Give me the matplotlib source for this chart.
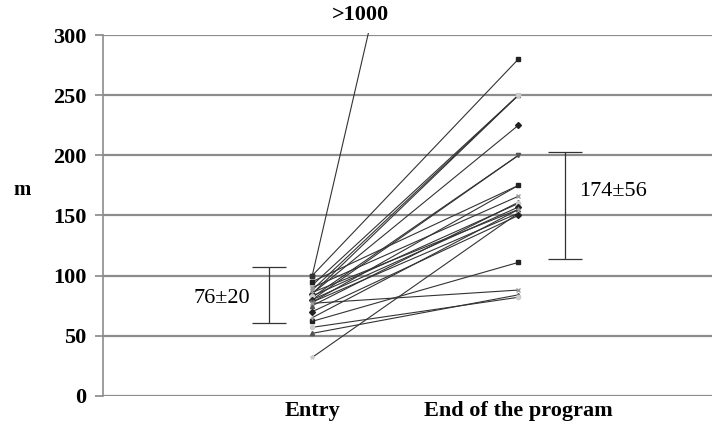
import matplotlib.pyplot as plt
from matplotlib.patches import Rectangle

plt.rcParams['font.family'] = ['Liberation Serif', 'DejaVu Serif']

# walking distance (m) per subject
entry = [100, 88, 85, 92, 85, 80, 82, 78, 95, 90, 75, 83, 80, 86, 78, 32, 62, 77, 52, 57, 70, 65]
end = [280, 250, 250, 250, 225, 200, 200, 175, 175, 166, 161, 160, 157, 155, 152, 152, 111, 88, 84, 82, 150, 155]

# subject with >1000 m at the end: drawn leaving the top of the chart
offscale_entry = 100
offscale_end = 840
offscale_label = '>1000'

categories = ['Entry', 'End of the program']
yticks = [0, 50, 100, 150, 200, 250, 300]

# mean±SD bars as drawn (low, high) and their labels
bar_low = [61, 114]
bar_high = [107.5, 202.5]
bar_labels = ['76±20', '174±56']

markers = ['s', 'x', '^', 'o', 'D', '+', 'v', '*']
shades = ['#222222', '#999999', '#555555', '#cccccc']

fig = plt.figure(figsize=(7.15, 4.28), dpi=100)
ax = fig.add_axes([0.144, 0.075, 0.852, 0.843])

for i, (a, b) in enumerate(zip(entry, end)):
    ax.plot([1, 2], [a, b], color='#333333', lw=0.8,
            marker=markers[i % len(markers)], ms=3,
            mec=shades[i % len(shades)], mfc=shades[i % len(shades)], zorder=3)

# off-scale line, stops at the top gridline
clip = Rectangle((0.5, 0), 1.5, 302, transform=ax.transData)
ln, = ax.plot([1, 2], [offscale_entry, offscale_end], color='#333333', lw=0.8,
              marker='s', ms=3, zorder=3)
ln.set_clip_path(clip)
ax.text(1.235, 317, offscale_label, ha='center', va='center',
        fontsize=16, fontweight='bold', clip_on=False)

# mean ± SD bars
bar_x = [0.79, 2.225]
for x, lo, hi in zip(bar_x, bar_low, bar_high):
    ax.errorbar(x, (lo + hi) / 2, yerr=(hi - lo) / 2, fmt='none',
                ecolor='#333333', elinewidth=0.9, capsize=12, capthick=0.9, zorder=4)
ax.text(0.70, 81, bar_labels[0], ha='right', va='center', fontsize=16)
ax.text(2.296, 170, bar_labels[1], ha='left', va='center', fontsize=16)

ax.set_xlim(-0.015, 2.94)
ax.set_ylim(0, 300)
ax.set_xticks([1, 2])
ax.set_xticklabels(categories, fontsize=16, fontweight='bold')
ax.set_yticks(yticks)
ax.set_yticklabels([str(v) for v in yticks], fontsize=16, fontweight='bold')
ax.tick_params(axis='x', length=0, pad=4)
ax.tick_params(axis='y', length=6, width=1.2, color='#888888', pad=6)

ax.grid(axis='y', color='#8c8c8c', lw=1.6, zorder=1)
ax.set_axisbelow(True)
for s in ['top', 'right', 'bottom']:
    ax.spines[s].set_visible(False)
ax.spines['left'].set_color('#8c8c8c')
ax.spines['left'].set_linewidth(1.2)

fig.text(0.031, 0.556, 'm', fontsize=15, fontweight='bold', ha='center', va='center')

fig.savefig('out.png', dpi=100)
